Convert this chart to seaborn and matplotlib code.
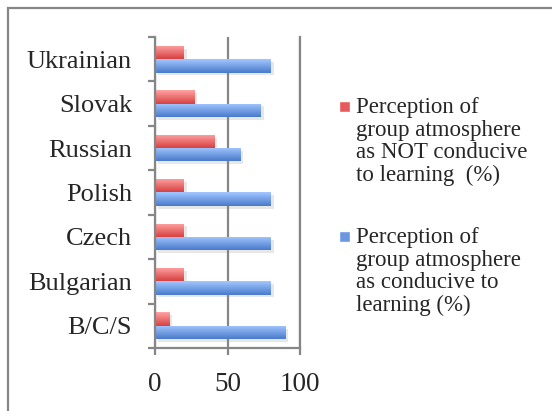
import numpy as np
import pandas as pd
import matplotlib
matplotlib.use("Agg")
import matplotlib.pyplot as plt
import matplotlib.patches as mpatches
from matplotlib.legend_handler import HandlerPatch
from matplotlib.patheffects import SimplePatchShadow, Normal
import seaborn as sns

languages = ["Ukrainian", "Slovak", "Russian", "Polish", "Czech", "Bulgarian", "B/C/S"]
not_conducive = [20, 27, 41, 20, 20, 20, 10]
conducive = [80, 73, 59, 80, 80, 80, 90]

label_not = "Perception of\ngroup atmosphere\nas NOT conducive\nto learning  (%)"
label_yes = "Perception of\ngroup atmosphere\nas conducive to\nlearning (%)"

df = pd.DataFrame({
    "language": languages * 2,
    "percent": not_conducive + conducive,
    "series": [label_not] * len(languages) + [label_yes] * len(languages),
})

sns.set_style("white")
plt.rcParams["font.family"] = ["Liberation Serif", "DejaVu Serif"]

grey = "#868686"
red_mid, blue_mid = "#EE6A6A", "#6E9BE6"
red_grad = ["#FFA3A3", "#D84141"]
blue_grad = ["#A3C6FF", "#4A7CCB"]

fig = plt.figure(figsize=(5.52, 4.11), dpi=100)
ax = fig.add_axes([155 / 552, 63 / 411, 145 / 552, 311 / 411])

sns.barplot(data=df, x="percent", y="language", hue="series",
            hue_order=[label_not, label_yes], order=languages,
            palette=[red_mid, blue_mid], width=0.6, orient="h",
            saturation=1, ax=ax, legend=False)

# gradient fill + soft shadow on each bar
n = len(languages)
for i, patch in enumerate(ax.patches[:2 * n]):
    cols = red_grad if i < n else blue_grad
    c0 = np.array(matplotlib.colors.to_rgb(cols[0]))
    c1 = np.array(matplotlib.colors.to_rgb(cols[1]))
    t = np.linspace(0, 1, 32)[:, None]
    grad = (c0 * (1 - t) + c1 * t)[:, None, :]
    x0, y0 = patch.get_x(), patch.get_y()
    w, h = patch.get_width(), patch.get_height()
    patch.set_edgecolor("none")
    patch.set_path_effects([SimplePatchShadow(offset=(2, -2), shadow_rgbFace="#888888", alpha=0.2), Normal()])
    im = ax.imshow(grad, extent=[x0, x0 + w, y0 + h, y0], aspect="auto", zorder=patch.get_zorder() + 0.1,
                   interpolation="bilinear")
    im.set_clip_path(patch)

ax.set_xlim(0, 100)
ax.set_ylim(len(languages) - 0.5, -0.5)
ax.set_aspect("auto")

ax.set_xlabel("")
ax.set_ylabel("")
ax.set_xticks([0, 50, 100])
ax.xaxis.grid(True, color=grey, linewidth=1.6)
ax.set_axisbelow(True)
ax.spines["top"].set_visible(False)
for s in ["left", "bottom", "right"]:
    ax.spines[s].set_color(grey)
    ax.spines[s].set_linewidth(1.6)

ax.tick_params(axis="x", labelsize=19.5, length=5, width=1.6, color=grey, pad=12.5, bottom=True)
ax.tick_params(axis="y", which="major", labelsize=19, length=0, pad=16.5)
ax.set_yticks(np.arange(-0.5, len(languages), 1), minor=True)
ax.tick_params(axis="y", which="minor", length=5, width=1.6, color=grey, left=True)

# legend with marker next to the first text line
fs = 16.5
first_base = 27.0


def first_line_square(legend, orig_handle, xdescent, ydescent, width, height, fontsize):
    return mpatches.Rectangle((-xdescent, first_base), 8, 8)


handles = [mpatches.Patch(facecolor="#E85A5A", label=label_not),
           mpatches.Patch(facecolor="#6A97E0", label=label_yes)]
leg = fig.legend(handles=handles, loc="upper left", bbox_to_anchor=(339 / 552, 1 - 97 / 411),
                 frameon=False, fontsize=fs, borderpad=0, borderaxespad=0,
                 handlelength=8 / fs, handleheight=8 / fs, handletextpad=0.25, labelspacing=1.8,
                 handler_map={mpatches.Patch: HandlerPatch(patch_func=first_line_square)})
for txt in leg.get_texts():
    txt.set_linespacing(1.1)

# outer chart-area border (runs off the right and bottom edges)
fig.patches.append(mpatches.Rectangle((8 / 552, -0.1), 2, 1 - 8 / 411 + 0.1,
                                      transform=fig.transFigure, fill=False,
                                      edgecolor=grey, linewidth=1.6))

fig.savefig("out.png", dpi=100)
